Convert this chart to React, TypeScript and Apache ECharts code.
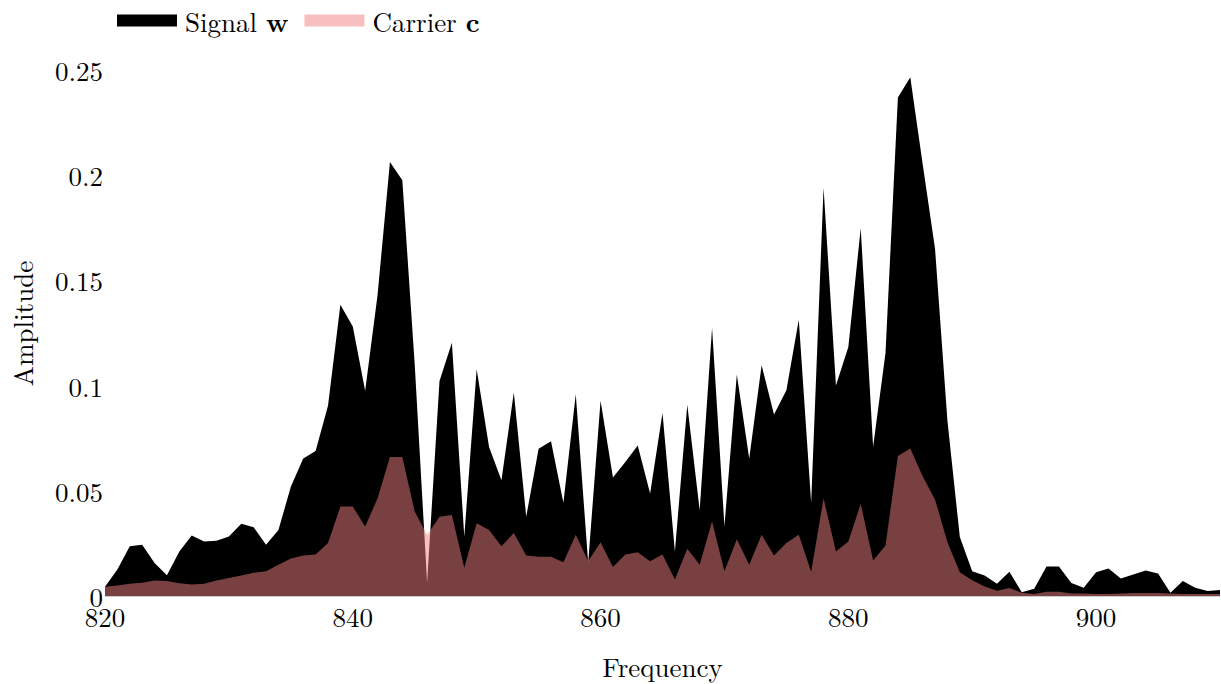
import React, { useEffect, useRef } from "react";
import * as echarts from "echarts";

const frequencies = [
  820, 821, 822, 823, 824, 825, 826, 827, 828, 829,
  830, 831, 832, 833, 834, 835, 836, 837, 838, 839,
  840, 841, 842, 843, 844, 845, 846, 847, 848, 849,
  850, 851, 852, 853, 854, 855, 856, 857, 858, 859,
  860, 861, 862, 863, 864, 865, 866, 867, 868, 869,
  870, 871, 872, 873, 874, 875, 876, 877, 878, 879,
  880, 881, 882, 883, 884, 885, 886, 887, 888, 889,
  890, 891, 892, 893, 894, 895, 896, 897, 898, 899,
  900, 901, 902, 903, 904, 905, 906, 907, 908, 909,
  910,
];

const signalW = [
  0.0044, 0.0126, 0.0236, 0.0244, 0.0157, 0.0099, 0.0212, 0.0288, 0.0259, 0.0263,
  0.0283, 0.0343, 0.0327, 0.0244, 0.0314, 0.0519, 0.0653, 0.0689, 0.0904, 0.1384,
  0.1281, 0.0975, 0.143, 0.2063, 0.1976, 0.11, 0.0063, 0.1022, 0.1203, 0.0283,
  0.1077, 0.0708, 0.055, 0.0967, 0.0377, 0.07, 0.0736, 0.0443, 0.0959, 0.0158,
  0.0928, 0.0563, 0.0637, 0.0715, 0.0487, 0.087, 0.0212, 0.0909, 0.0409, 0.1274,
  0.0333, 0.1053, 0.0653, 0.1097, 0.0862, 0.0978, 0.1313, 0.0443, 0.194, 0.1,
  0.1183, 0.1748, 0.0709, 0.1155, 0.2369, 0.2465, 0.2053, 0.1649, 0.0833, 0.028,
  0.0118, 0.0098, 0.0058, 0.0115, 0.0018, 0.0035, 0.014, 0.014, 0.0062, 0.0039,
  0.0113, 0.0131, 0.0083, 0.0102, 0.0121, 0.0107, 0.0016, 0.0071, 0.0039, 0.0024,
  0.0028,
];

const carrierC = [
  0.0044, 0.005, 0.0058, 0.0063, 0.0074, 0.0071, 0.006, 0.0055, 0.0058, 0.0074,
  0.0086, 0.0097, 0.011, 0.0118, 0.0149, 0.0178, 0.0192, 0.0197, 0.0252, 0.0425,
  0.0425, 0.033, 0.0464, 0.066, 0.066, 0.0401, 0.029, 0.0377, 0.0385, 0.0134,
  0.0346, 0.0314, 0.0236, 0.0299, 0.0192, 0.0186, 0.0186, 0.016, 0.0291, 0.0165,
  0.0255, 0.0138, 0.0197, 0.0208, 0.0165, 0.0197, 0.0079, 0.0225, 0.0149, 0.0354,
  0.0118, 0.027, 0.0149, 0.0291, 0.0192, 0.0252, 0.0291, 0.0115, 0.0464, 0.0212,
  0.0259, 0.0438, 0.0169, 0.024, 0.0665, 0.0701, 0.0569, 0.0458, 0.0256, 0.0113,
  0.0075, 0.0045, 0.0025, 0.0038, 0.0015, 0.001, 0.002, 0.002, 0.0012, 0.0012,
  0.001, 0.0009, 0.0012, 0.0014, 0.0014, 0.0014, 0.0012, 0.001, 0.001, 0.001,
  0.001,
];

const FONT = "'Latin Modern Roman', 'CMU Serif', 'Liberation Serif', serif";
const FS = 27;

export default function App() {
  const ref = useRef<HTMLDivElement>(null);

  useEffect(() => {
    if (!ref.current) return;
    const chart = echarts.init(ref.current, undefined, { renderer: "svg" });
    const signalData = frequencies.map((f, i) => [f, signalW[i]]);
    const carrierData = frequencies.map((f, i) => [f, carrierC[i]]);

    chart.setOption({
      animation: false,
      backgroundColor: "#ffffff",
      grid: { left: 104, right: 1, top: 51, bottom: 84, containLabel: false },
      legend: {
        left: 117,
        top: 7,
        padding: 0,
        icon: "rect",
        itemWidth: 60,
        itemHeight: 12,
        itemGap: 16,
        data: ["Signal w", "Carrier c"],
        formatter: (name: string) =>
          name === "Signal w" ? "{n|Signal} {b|w}" : "{n|Carrier} {b|c}",
        textStyle: {
          color: "#000",
          fontFamily: FONT,
          fontSize: FS,
          padding: [0, 0, 0, 3],
          rich: {
            n: { fontFamily: FONT, fontSize: FS, color: "#000" },
            b: { fontFamily: FONT, fontSize: FS, fontWeight: "bold", color: "#000" },
          },
        },
      },
      xAxis: {
        type: "value",
        min: 820,
        max: 910,
        interval: 20,
        name: "Frequency",
        nameLocation: "middle",
        nameGap: 56,
        nameTextStyle: { fontFamily: FONT, fontSize: FS, color: "#000" },
        axisLine: { show: true, lineStyle: { color: "#cccccc", width: 1 } },
        axisTick: { show: false },
        splitLine: { show: false },
        axisLabel: {
          margin: 6,
          fontFamily: FONT,
          fontSize: FS,
          color: "#000",
          showMaxLabel: false,
        },
      },
      yAxis: {
        type: "value",
        min: 0,
        max: 0.259,
        interval: 0.05,
        name: "Amplitude",
        nameLocation: "middle",
        nameGap: 70,
        nameTextStyle: { fontFamily: FONT, fontSize: FS, color: "#000" },
        axisLine: { show: false },
        axisTick: { show: false },
        splitLine: { show: false },
        axisLabel: {
          margin: 2,
          fontFamily: FONT,
          fontSize: FS,
          color: "#000",
          showMaxLabel: false,
        },
      },
      series: [
        {
          name: "Signal w",
          type: "line",
          data: signalData,
          showSymbol: false,
          symbol: "none",
          color: "#000000",
          lineStyle: { width: 0 },
          areaStyle: { color: "#000000", opacity: 1 },
          z: 2,
        },
        {
          name: "Carrier c",
          type: "line",
          data: carrierData,
          showSymbol: false,
          symbol: "none",
          color: "rgba(240,128,128,0.5)",
          lineStyle: { width: 0 },
          areaStyle: { color: "rgba(240,128,128,0.5)", opacity: 1 },
          z: 3,
        },
      ],
    });

    return () => chart.dispose();
  }, []);

  return (
    <div
      ref={ref}
      style={{ position: "fixed", left: 0, top: 0, width: 1221, height: 684 }}
    />
  );
}
